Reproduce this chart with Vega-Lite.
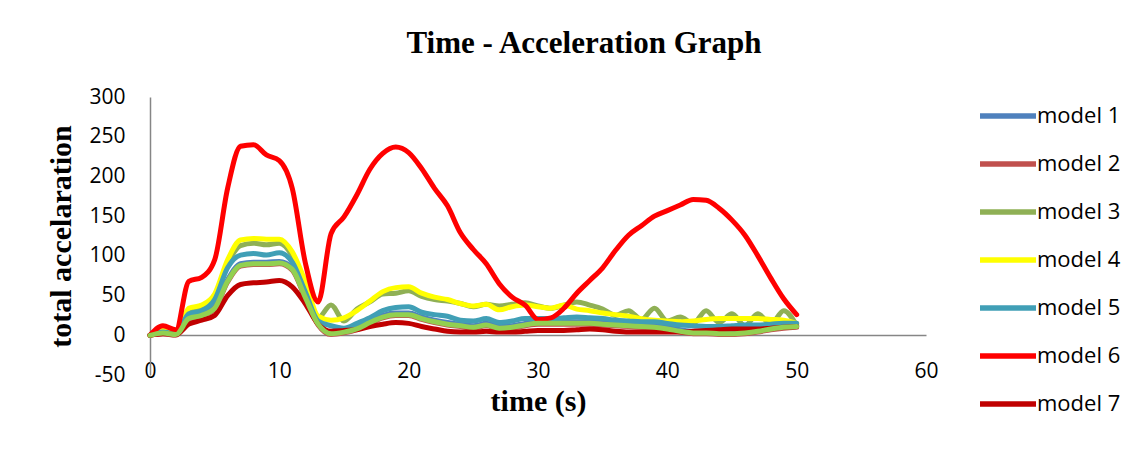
{
  "$schema": "https://vega.github.io/schema/vega-lite/v6.json",
  "width": 776,
  "height": 278,
  "autosize": {"type": "none"},
  "padding": {"left": 150, "top": 97, "right": 221, "bottom": 75},
  "background": "white",
  "config": {
    "view": {"stroke": null},
    "axis": {
      "grid": false,
      "ticks": false,
      "tickSize": 0,
      "labelFlush": false,
      "domainColor": "#868686",
      "domainWidth": 1.5,
      "labelFont": "Open Sans",
      "labelFontSize": 21,
      "labelColor": "black",
      "titleFont": "Liberation Serif",
      "titleFontSize": 30,
      "titleFontWeight": "bold",
      "titleColor": "black"
    }
  },
  "title": {
    "text": "Time - Acceleration Graph",
    "font": "Liberation Serif",
    "fontSize": 31,
    "fontWeight": "bold",
    "color": "black",
    "anchor": "middle",
    "frame": "group",
    "dx": 46,
    "offset": 26
  },
  "data": {
    "values": [
      {"t": 0, "model 1": 0, "model 2": 0, "model 3": 0, "model 4": 0, "model 5": 0, "model 6": 0, "model 7": 0, "extra": 0},
      {"t": 1, "model 1": 5, "model 2": 2, "model 3": 5, "model 4": 6, "model 5": 4, "model 6": 12, "model 7": 2, "extra": 3},
      {"t": 2, "model 1": 3, "model 2": 0, "model 3": 2, "model 4": 3, "model 5": 2, "model 6": 7, "model 7": 1, "extra": 1},
      {"t": 3, "model 1": 23, "model 2": 20, "model 3": 30, "model 4": 34, "model 5": 27, "model 6": 68, "model 7": 14, "extra": 21},
      {"t": 4, "model 1": 27, "model 2": 24, "model 3": 34, "model 4": 38, "model 5": 31, "model 6": 73, "model 7": 19, "extra": 25},
      {"t": 5, "model 1": 36, "model 2": 33, "model 3": 48, "model 4": 52, "model 5": 45, "model 6": 95, "model 7": 25, "extra": 34},
      {"t": 6, "model 1": 70, "model 2": 67, "model 3": 90, "model 4": 95, "model 5": 85, "model 6": 185, "model 7": 50, "extra": 68},
      {"t": 7, "model 1": 90, "model 2": 87, "model 3": 113, "model 4": 120, "model 5": 101, "model 6": 238, "model 7": 64, "extra": 88},
      {"t": 8, "model 1": 92, "model 2": 89, "model 3": 116, "model 4": 122, "model 5": 103, "model 6": 240, "model 7": 66, "extra": 90},
      {"t": 9, "model 1": 92, "model 2": 89, "model 3": 114, "model 4": 121, "model 5": 101, "model 6": 227, "model 7": 67, "extra": 90},
      {"t": 10, "model 1": 93, "model 2": 90, "model 3": 116, "model 4": 121, "model 5": 104, "model 6": 220, "model 7": 69, "extra": 91},
      {"t": 11, "model 1": 85, "model 2": 82, "model 3": 100, "model 4": 105, "model 5": 92, "model 6": 185, "model 7": 61, "extra": 83},
      {"t": 12, "model 1": 50, "model 2": 47, "model 3": 62, "model 4": 68, "model 5": 55, "model 6": 92, "model 7": 40, "extra": 48},
      {"t": 13, "model 1": 16, "model 2": 13, "model 3": 22, "model 4": 24, "model 5": 18, "model 6": 42, "model 7": 14, "extra": 14},
      {"t": 14, "model 1": 4, "model 2": 1, "model 3": 38, "model 4": 19, "model 5": 12, "model 6": 128, "model 7": 5, "extra": 2},
      {"t": 15, "model 1": 6, "model 2": 3, "model 3": 18, "model 4": 22, "model 5": 9, "model 6": 149, "model 7": 6, "extra": 4},
      {"t": 16, "model 1": 10, "model 2": 7, "model 3": 33, "model 4": 31, "model 5": 15, "model 6": 177, "model 7": 7, "extra": 8},
      {"t": 17, "model 1": 18, "model 2": 15, "model 3": 42, "model 4": 43, "model 5": 22, "model 6": 209, "model 7": 11, "extra": 16},
      {"t": 18, "model 1": 25, "model 2": 22, "model 3": 52, "model 4": 55, "model 5": 31, "model 6": 229, "model 7": 14, "extra": 23},
      {"t": 19, "model 1": 28, "model 2": 25, "model 3": 53, "model 4": 60, "model 5": 35, "model 6": 237, "model 7": 16, "extra": 26},
      {"t": 20, "model 1": 28, "model 2": 25, "model 3": 56, "model 4": 61, "model 5": 36, "model 6": 230, "model 7": 15, "extra": 26},
      {"t": 21, "model 1": 23, "model 2": 20, "model 3": 49, "model 4": 53, "model 5": 29, "model 6": 210, "model 7": 11, "extra": 21},
      {"t": 22, "model 1": 19, "model 2": 16, "model 3": 45, "model 4": 48, "model 5": 26, "model 6": 185, "model 7": 8, "extra": 17},
      {"t": 23, "model 1": 16, "model 2": 13, "model 3": 43, "model 4": 45, "model 5": 24, "model 6": 163, "model 7": 5, "extra": 14},
      {"t": 24, "model 1": 14, "model 2": 11, "model 3": 40, "model 4": 40, "model 5": 19, "model 6": 129, "model 7": 4, "extra": 12},
      {"t": 25, "model 1": 12, "model 2": 9, "model 3": 36, "model 4": 37, "model 5": 18, "model 6": 108, "model 7": 4, "extra": 10},
      {"t": 26, "model 1": 15, "model 2": 12, "model 3": 39, "model 4": 39, "model 5": 21, "model 6": 90, "model 7": 5, "extra": 13},
      {"t": 27, "model 1": 11, "model 2": 8, "model 3": 37, "model 4": 32, "model 5": 16, "model 6": 65, "model 7": 4, "extra": 9},
      {"t": 28, "model 1": 12, "model 2": 9, "model 3": 39, "model 4": 36, "model 5": 18, "model 6": 48, "model 7": 4, "extra": 10},
      {"t": 29, "model 1": 15, "model 2": 12, "model 3": 41, "model 4": 38, "model 5": 21, "model 6": 38, "model 7": 5, "extra": 13},
      {"t": 30, "model 1": 17, "model 2": 14, "model 3": 37, "model 4": 36, "model 5": 21, "model 6": 20, "model 7": 6, "extra": 15},
      {"t": 31, "model 1": 17, "model 2": 14, "model 3": 34, "model 4": 34, "model 5": 21, "model 6": 22, "model 7": 6, "extra": 15},
      {"t": 32, "model 1": 17, "model 2": 14, "model 3": 38, "model 4": 38, "model 5": 22, "model 6": 34, "model 7": 6, "extra": 15},
      {"t": 33, "model 1": 17, "model 2": 14, "model 3": 42, "model 4": 33, "model 5": 23, "model 6": 53, "model 7": 7, "extra": 15},
      {"t": 34, "model 1": 17, "model 2": 14, "model 3": 38, "model 4": 31, "model 5": 22, "model 6": 69, "model 7": 8, "extra": 15},
      {"t": 35, "model 1": 16, "model 2": 13, "model 3": 33, "model 4": 28, "model 5": 21, "model 6": 85, "model 7": 7, "extra": 14},
      {"t": 36, "model 1": 15, "model 2": 12, "model 3": 25, "model 4": 26, "model 5": 19, "model 6": 107, "model 7": 5, "extra": 13},
      {"t": 37, "model 1": 14, "model 2": 11, "model 3": 31, "model 4": 24, "model 5": 18, "model 6": 126, "model 7": 4, "extra": 12},
      {"t": 38, "model 1": 13, "model 2": 10, "model 3": 20, "model 4": 21, "model 5": 17, "model 6": 138, "model 7": 4, "extra": 11},
      {"t": 39, "model 1": 12, "model 2": 9, "model 3": 34, "model 4": 19, "model 5": 17, "model 6": 150, "model 7": 4, "extra": 10},
      {"t": 40, "model 1": 10, "model 2": 7, "model 3": 18, "model 4": 18, "model 5": 15, "model 6": 157, "model 7": 4, "extra": 8},
      {"t": 41, "model 1": 7, "model 2": 4, "model 3": 23, "model 4": 17, "model 5": 13, "model 6": 164, "model 7": 4, "extra": 5},
      {"t": 42, "model 1": 5, "model 2": 2, "model 3": 15, "model 4": 18, "model 5": 12, "model 6": 171, "model 7": 5, "extra": 3},
      {"t": 43, "model 1": 5, "model 2": 2, "model 3": 31, "model 4": 20, "model 5": 11, "model 6": 170, "model 7": 6, "extra": 3},
      {"t": 44, "model 1": 4, "model 2": 1, "model 3": 16, "model 4": 21, "model 5": 11, "model 6": 160, "model 7": 7, "extra": 2},
      {"t": 45, "model 1": 4, "model 2": 1, "model 3": 27, "model 4": 21, "model 5": 12, "model 6": 145, "model 7": 8, "extra": 2},
      {"t": 46, "model 1": 5, "model 2": 2, "model 3": 12, "model 4": 21, "model 5": 13, "model 6": 126, "model 7": 8, "extra": 3},
      {"t": 47, "model 1": 7, "model 2": 4, "model 3": 27, "model 4": 21, "model 5": 13, "model 6": 100, "model 7": 8, "extra": 5},
      {"t": 48, "model 1": 10, "model 2": 7, "model 3": 14, "model 4": 20, "model 5": 14, "model 6": 72, "model 7": 9, "extra": 8},
      {"t": 49, "model 1": 12, "model 2": 9, "model 3": 31, "model 4": 19, "model 5": 15, "model 6": 46, "model 7": 10, "extra": 10},
      {"t": 50, "model 1": 13, "model 2": 10, "model 3": 12, "model 4": 15, "model 5": 15, "model 6": 26, "model 7": 11, "extra": 11}
    ]
  },
  "layer": [
    {
      "transform": [
        {"fold": ["model 1", "model 2", "model 3", "model 4", "model 5", "model 6", "model 7"], "as": ["model", "v"]}
      ],
      "mark": {"type": "line", "strokeWidth": 5, "interpolate": "monotone", "strokeCap": "round", "strokeJoin": "round"},
      "encoding": {
        "x": {
          "field": "t", "type": "quantitative",
          "scale": {"domain": [0, 60], "nice": false},
          "axis": {"values": [0, 10, 20, 30, 40, 50, 60], "offset": -40, "labelPadding": 25, "title": "time (s)", "titlePadding": 5}
        },
        "y": {
          "field": "v", "type": "quantitative",
          "scale": {"domain": [-50, 300], "nice": false, "zero": false},
          "axis": {"values": [-50, 0, 50, 100, 150, 200, 250, 300], "labelExpr": "datum.value + ''", "labelPadding": 25, "title": "total accelaration", "titlePadding": 12}
        },
        "color": {
          "field": "model", "type": "nominal",
          "scale": {
            "domain": ["model 1", "model 2", "model 3", "model 4", "model 5", "model 6", "model 7"],
            "range": ["#4F81BD", "#C0504D", "#8FB055", "#FFFF00", "#409FB6", "#FF0000", "#C00000"]
          },
          "legend": {
            "orient": "none", "legendX": 841, "legendY": 2, "title": null,
            "symbolType": "M-2,0H2", "symbolSize": 784, "symbolStrokeWidth": 5.5,
            "labelOffset": 12, "rowPadding": 20, "padding": 0,
            "labelFont": "Open Sans", "labelFontSize": 22, "labelColor": "black"
          }
        }
      }
    },
    {
      "mark": {"type": "line", "strokeWidth": 5, "interpolate": "monotone", "strokeCap": "round", "strokeJoin": "round", "color": "#92D050"},
      "encoding": {
        "x": {"field": "t", "type": "quantitative", "scale": {"domain": [0, 60], "nice": false}},
        "y": {
          "field": "extra", "type": "quantitative",
          "scale": {"domain": [-50, 300], "nice": false, "zero": false},
          "axis": {"values": [-50, 0, 50, 100, 150, 200, 250, 300], "labelExpr": "datum.value + ''", "labelPadding": 25, "title": "total accelaration", "titlePadding": 12}
        }
      }
    }
  ]
}
